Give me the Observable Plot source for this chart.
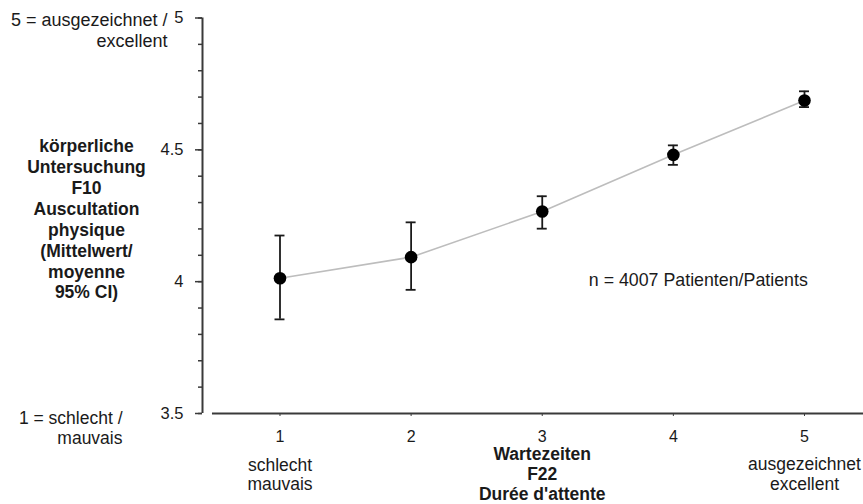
<!DOCTYPE html>
<html>
<head>
<meta charset="utf-8">
<script src="https://cdn.jsdelivr.net/npm/d3@7"></script>
<script src="https://cdn.jsdelivr.net/npm/@observablehq/plot@0.6"></script>
<style>
  html, body { margin: 0; padding: 0; background: #fff; }
</style>
</head>
<body>
<div id="chart"></div>
<script>
// Data
const categories = [1, 2, 3, 4, 5];
const means = [4.013, 4.093, 4.266, 4.481, 4.687];
const lower = [3.857, 3.969, 4.201, 4.443, 4.662];
const upper = [4.175, 4.225, 4.324, 4.517, 4.722];
const yMajorTicks = [3.5, 4, 4.5, 5];
const yMinorTicks = [3.5, 3.6, 3.7, 3.8, 3.9, 4, 4.1, 4.2, 4.3, 4.4, 4.5, 4.6, 4.7, 4.8, 4.9, 5];
const xTickLabels = ["1", "2", "3", "4", "5"];
const yTitle = "körperliche\nUntersuchung\nF10\nAuscultation\nphysique\n(Mittelwert/\nmoyenne\n95% CI)";
const yTopLabel = "5 = ausgezeichnet /\nexcellent";
const yBottomLabel = "1 = schlecht /\nmauvais";
const xLeftLabel = "schlecht\nmauvais";
const xRightLabel = "ausgezeichnet\nexcellent";
const xTitle = "Wartezeiten\nF22\nDurée d'attente";
const note = "n = 4007 Patienten/Patients";

const data = categories.map((c, i) => ({x: c, mean: means[i], lo: lower[i], hi: upper[i]}));

const xMin = 0.409, xMax = 5.45, xAxisStart = 0.485;
const capHalf = 0.038;
const ink = "#1a1a1a";
const axisInk = "#3a3a3a";
const fs = 17.5;

const chart = Plot.plot({
  width: 863,
  height: 504,
  marginLeft: 202,
  marginRight: 0,
  marginTop: 17.5,
  marginBottom: 91,
  style: {fontFamily: "'Liberation Sans', Arial, sans-serif", fontSize: "16px", color: ink, background: "#fff"},
  x: {domain: [xMin, xMax]},
  y: {domain: [3.5, 5]},
  marks: [
    // axes lines
    Plot.ruleX([xMin], {y1: 3.5, y2: 5, stroke: axisInk, strokeWidth: 2}),
    Plot.ruleY([3.5], {x1: xAxisStart, x2: xMax, stroke: axisInk, strokeWidth: 2}),
    Plot.axisY({ticks: yMinorTicks, tickSize: 4, text: null, label: null, stroke: axisInk, strokeWidth: 1.5}),
    Plot.axisY({ticks: yMajorTicks, tickSize: 7, tickPadding: 12, tickFormat: d => String(d), label: null, stroke: axisInk, strokeWidth: 1.5, fontSize: 16.5}),
    Plot.axisX({ticks: categories, tickSize: 3, tickPadding: 14, tickFormat: (d, i) => xTickLabels[i], label: null, stroke: axisInk, fontSize: 16}),
    // line
    Plot.line(data, {x: "x", y: "mean", stroke: "#bdbdbd", strokeWidth: 1.6}),
    // error bars
    Plot.ruleX(data, {x: "x", y1: "lo", y2: "hi", stroke: ink, strokeWidth: 1.8}),
    Plot.ruleY(data, {y: "hi", x1: d => d.x - capHalf, x2: d => d.x + capHalf, stroke: ink, strokeWidth: 1.8}),
    Plot.ruleY(data, {y: "lo", x1: d => d.x - capHalf, x2: d => d.x + capHalf, stroke: ink, strokeWidth: 1.8}),
    // points
    Plot.dot(data, {x: "x", y: "mean", r: 6.3, fill: "#000", stroke: "none"}),
    // note
    Plot.text([note], {x: 4.19, y: 4.005, text: d => d, textAnchor: "middle", fontSize: 17.8, fill: ink}),
    // y-axis annotations
    Plot.text([yTitle], {x: xMin, y: 4.239, dx: -116, text: d => d, textAnchor: "middle", lineHeight: 20.9 / fs, fontWeight: "bold", fontSize: fs, fill: ink}),
    Plot.text([yTopLabel], {x: xMin, y: 4.955, dx: -35, text: d => d, textAnchor: "end", lineHeight: 21 / 18, fontSize: 18, fill: ink}),
    Plot.text([yBottomLabel], {x: xMin, y: 3.448, dx: -80, text: d => d, textAnchor: "end", lineHeight: 20 / fs, fontSize: fs, fill: ink}),
    // x-axis annotations
    Plot.text([xLeftLabel], {x: 1, y: 3.5, dy: 60.5, text: d => d, textAnchor: "middle", lineHeight: 19 / fs, fontSize: fs, fill: ink}),
    Plot.text([xRightLabel], {x: 5, y: 3.5, dy: 60, text: d => d, textAnchor: "middle", lineHeight: 20 / fs, fontSize: fs, fill: ink}),
    Plot.text([xTitle], {x: 3, y: 3.5, dy: 60, text: d => d, textAnchor: "middle", lineHeight: 20 / fs, fontWeight: "bold", fontSize: fs, fill: ink})
  ]
});
document.getElementById("chart").appendChild(chart);
</script>
</body>
</html>
